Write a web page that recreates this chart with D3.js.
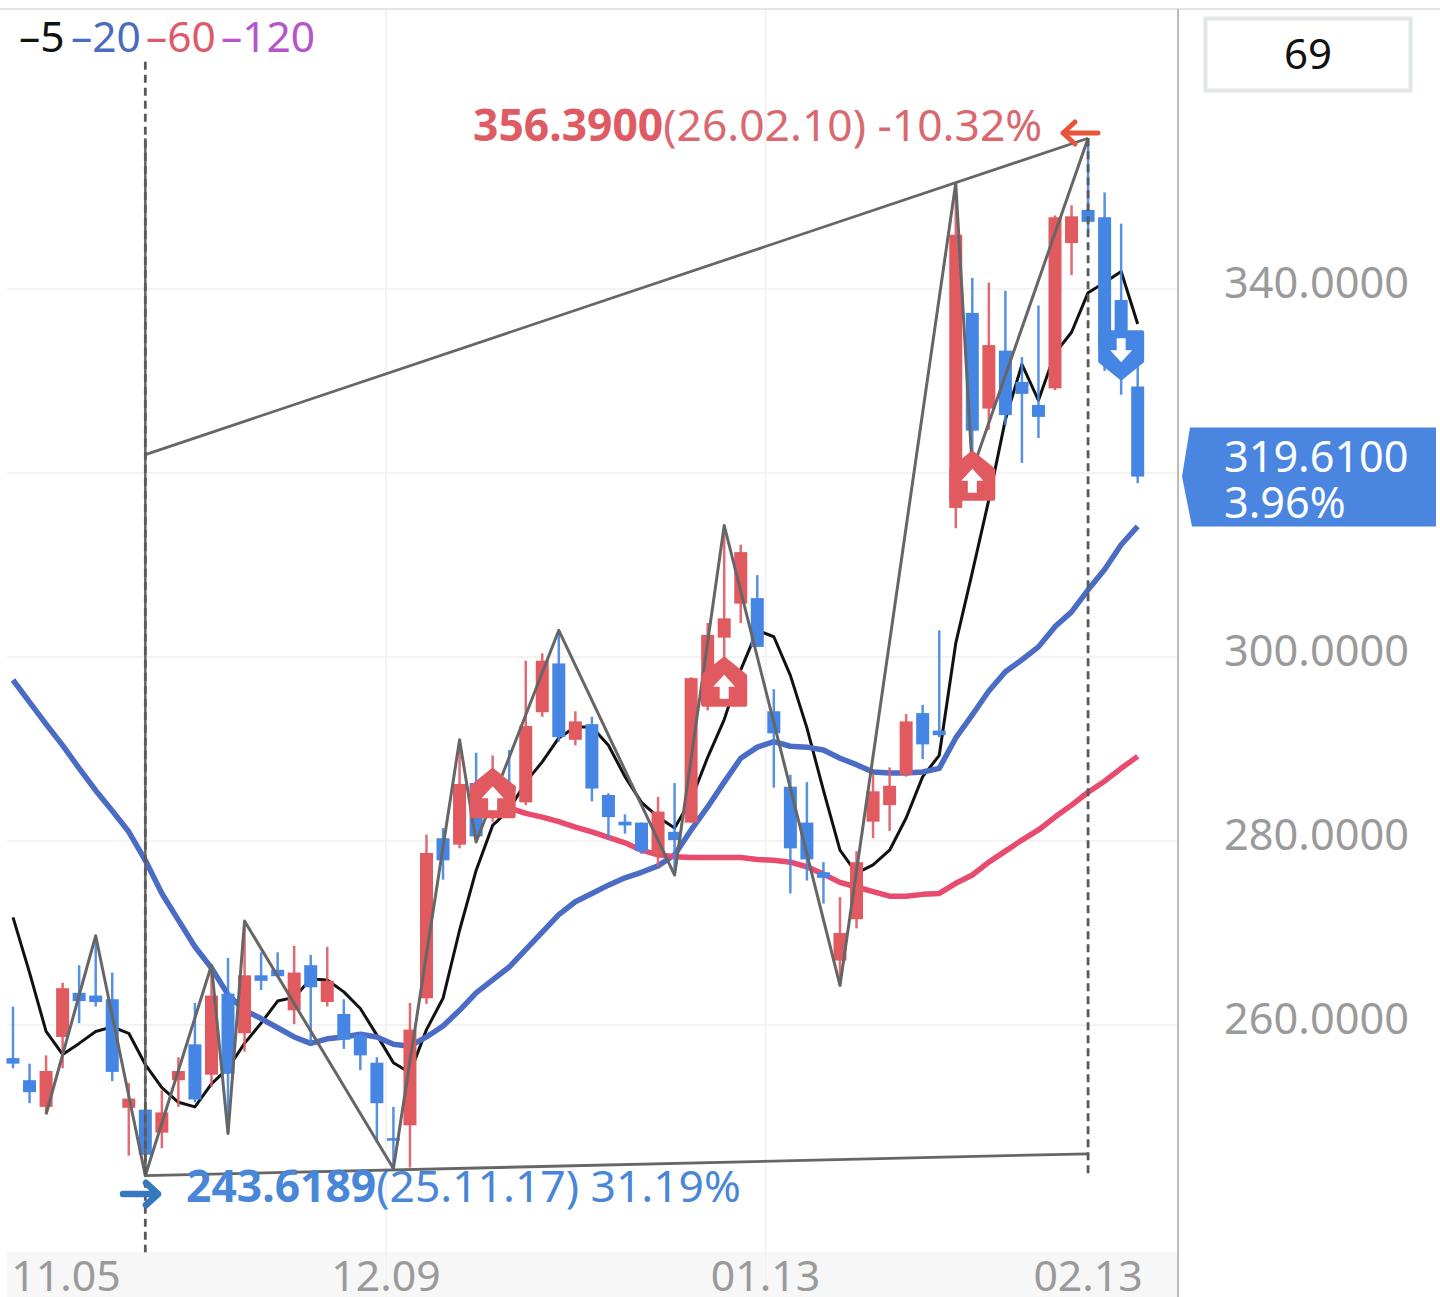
<!DOCTYPE html>
<html><head><meta charset="utf-8">
<script src="https://cdnjs.cloudflare.com/ajax/libs/d3/7.8.5/d3.min.js"></script>
<style>html,body{margin:0;padding:0;background:#fff;overflow:hidden}svg{display:block}text{font-family:"Noto Sans",sans-serif}</style>
</head><body><svg id="c" width="1440" height="1297"></svg>
<script>
const opens=[256.4,254.0,251.1,258.7,263.5,263.2,262.8,251.0,250.8,248.3,
254.0,257.9,254.6,263.4,259.1,265.4,266.0,261.6,266.5,262.5,
261.2,258.9,255.9,247.7,249.1,262.9,280.3,279.6,286.3,282.5,
286.0,284.2,294.0,299.3,291.0,292.7,285.0,282.1,282.0,278.5,
281.0,282.0,294.8,302.1,305.8,306.4,294.1,285.9,282.0,276.6,
267.0,271.5,282.1,283.9,287.2,293.9,292.0,316.2,337.4,327.0,
333.3,329.9,327.4,329.2,345.0,348.6,347.8,338.8,329.4];
const closes=[255.8,252.7,255.0,264.0,262.6,262.5,254.9,252.0,245.9,250.5,
255.0,251.9,263.2,254.7,265.4,264.8,265.3,265.7,264.1,264.8,
258.4,256.7,251.5,247.5,259.5,278.7,277.9,286.2,280.5,286.1,
285.5,292.5,299.6,291.3,293.0,285.7,282.6,281.7,278.9,283.2,
280.1,297.7,302.4,304.2,311.4,301.1,291.7,279.2,278.0,276.0,
270.0,277.7,285.4,286.0,293.0,290.5,291.5,345.9,324.6,333.9,
326.3,328.6,326.1,347.8,347.9,347.3,333.7,333.0,319.61];
const highs=[262.0,255.8,256.7,264.6,266.5,269.7,265.7,253.7,250.8,252.9,
256.5,262.4,266.5,267.3,271.3,267.9,267.9,268.6,267.6,268.5,
262.8,259.2,256.5,251.1,262.4,280.7,281.4,291.0,289.6,289.3,
289.9,299.6,300.4,302.9,294.1,293.5,285.2,282.9,282.0,284.8,
286.3,297.8,303.7,314.3,312.2,308.9,296.5,287.2,286.4,277.7,
273.9,278.9,287.2,288.0,293.8,294.8,302.9,351.5,341.2,340.7,
339.8,332.6,338.2,348.0,349.1,356.39,350.5,347.1,335.2];
const lows=[255.3,251.5,250.3,255.3,260.2,262.0,253.9,245.8,243.62,246.6,
251.1,251.6,253.3,248.2,257.1,263.8,265.3,260.1,258.0,262.0,
257.4,255.1,247.2,244.4,244.5,262.3,275.8,279.2,279.9,282.1,
283.6,283.9,293.5,290.8,290.4,284.3,280.3,280.8,278.6,277.3,
276.3,282.0,294.2,297.5,303.7,301.1,285.8,274.3,275.7,273.2,
264.3,270.5,280.3,281.1,287.0,288.9,291.3,314.0,320.3,324.7,
325.2,321.1,323.8,329.0,341.5,346.4,331.1,328.5,318.9];
const ma5=[271.7,265.7,259.3,256.8,258.0,259.3,259.8,259.1,255.7,253.2,
251.6,251.1,253.6,255.3,258.0,260.2,262.6,263.0,265.0,264.9,
263.6,261.8,258.9,255.9,254.8,259.5,262.9,270.3,276.8,281.7,
283.4,286.4,288.6,291.2,292.4,292.4,290.4,287.0,284.2,282.6,
281.4,284.5,289.1,293.2,298.6,302.9,302.2,298.0,292.3,285.5,
279.0,276.5,277.4,279.0,282.5,287.0,289.3,301.5,309.2,317.1,
325.8,331.8,327.9,333.0,335.3,339.6,340.7,341.9,336.2];
const ma20=[297.5,295.1,292.7,290.4,287.9,285.5,283.3,281.0,277.9,274.3,
271.4,268.5,266.2,263.3,261.6,260.7,259.7,258.7,258.0,258.5,
258.7,259.0,258.7,257.9,257.7,258.7,259.9,261.6,263.5,264.9,
266.3,268.2,270.1,272.0,273.4,274.3,275.2,276.0,276.6,277.3,
278.5,281.2,283.7,286.4,289.0,290.2,290.8,290.3,290.2,289.9,
289.0,288.3,287.5,287.4,287.4,287.5,287.9,291.2,293.7,296.3,
298.4,299.7,301.1,303.3,304.9,307.3,309.5,312.2,314.2];
const ma60Start=29;
const ma60=[283.9,283.6,283.0,282.6,282.1,281.5,281.0,280.4,279.8,279.0,
278.5,278.3,278.2,278.2,278.2,278.2,278.0,277.9,277.7,277.2,
276.4,275.5,275.0,274.5,274.0,274.0,274.2,274.3,275.4,276.3,
277.7,278.9,280.1,281.2,282.6,283.9,285.3,286.5,287.9,289.2];
const zigIdx=[2,5,8,12,13,14,23,27,28,33,40,43,50,57,58,65];
const zigKind=["l","h","l","h","l","h","l","h","l","h","l","h","l","h","l","h"];
const upperChannel=[[8,322.0],[65,356.39]];
const lowerChannel=[[8,243.62],[65,246.0]];
const rangeLeft=[364.7,235.3];
const rangeRight=[356.39,243.4];
const upIdx=[29,43,58], upTip=[287.7,299.8,322.2];
const downIdx=[67], downTip=[330.3];
const yTicks=[260,280,300,320,340];
const yLabels=[260,280,300,340];
const xTickLabels=["11.05","12.09","01.13","02.13"];
const xTickPos=[3.2,22.55,45.5,65];
const xGridPos=[22.55,45.5];
const legendText=["–5","–20","–60","–120"];
const legendColors=["#111111","#4a6cc0","#dc5a6a","#b455cc"];
const legendX=[19,71,146,221];

const RED="#e05a60",BLUE="#4585e3",GREY="#666666";
const svg=d3.select("#c");
const x=d3.scaleLinear().domain([0,68]).range([13,1137.7]);
const y=d3.scaleLinear().domain([260,340]).range([1025,289]);

// frame + grid
svg.append("rect").attr("x",7).attr("y",1252).attr("width",1171).attr("height",45).attr("fill","#f7f7f7");
svg.append("line").attr("x1",0).attr("x2",1440).attr("y1",9).attr("y2",9).attr("stroke","#e4e4e4").attr("stroke-width",2);
svg.append("g").selectAll("line").data(yTicks).join("line")
  .attr("x1",7).attr("x2",1178).attr("y1",d=>y(d)).attr("y2",d=>y(d)).attr("stroke","#f3f3f3").attr("stroke-width",2);
svg.append("g").selectAll("line").data(xGridPos).join("line")
  .attr("x1",d=>x(d)).attr("x2",d=>x(d)).attr("y1",10).attr("y2",1297).attr("stroke","#f3f3f3").attr("stroke-width",2);
svg.append("line").attr("x1",1178).attr("x2",1178).attr("y1",9).attr("y2",1297).attr("stroke","#bcbcbc").attr("stroke-width",2);

// axes labels
const ax=svg.append("g").attr("transform","translate(1224,-8)")
  .call(d3.axisRight(y).tickValues(yLabels).tickFormat(d3.format(".4f")).tickSize(0).tickPadding(0));
ax.select(".domain").remove();
ax.selectAll("text").attr("font-size",43.3).attr("fill","#9a9a9a").attr("dy",null).attr("dominant-baseline","central").style("font-family",'"Noto Sans",sans-serif');
svg.append("g").selectAll("text").data(xTickLabels).join("text")
  .attr("x",(d,i)=>x(xTickPos[i])).attr("y",1291).attr("text-anchor","middle")
  .attr("font-size",42.8).attr("fill","#9a9a9a").text(d=>d);

// moving averages (under candles)
const line=d3.line().x(d=>x(d[0])).y(d=>y(d[1]));
const pts=(a,s=0)=>a.map((v,i)=>[i+s,v]);
const ln=(a,c,w)=>svg.append("path").attr("d",line(a)).attr("fill","none").attr("stroke",c).attr("stroke-width",w).attr("stroke-linejoin","round");
ln(pts(ma5),"#111111",3);
ln(pts(ma20),"#4a6cc4",5.5);
ln(pts(ma60,ma60Start),"#e94b6e",5.5);

// candles
const idx=d3.range(opens.length);
const col=i=>closes[i]>=opens[i]?RED:BLUE;
svg.append("g").selectAll("line").data(idx).join("line")
  .attr("x1",i=>x(i)).attr("x2",i=>x(i)).attr("y1",i=>y(highs[i])).attr("y2",i=>y(lows[i]))
  .attr("stroke",col).attr("stroke-width",2.5).attr("stroke-opacity",.9);
svg.append("g").selectAll("rect").data(idx).join("rect")
  .attr("x",i=>x(i)-6.5).attr("width",13)
  .attr("y",i=>y(Math.max(opens[i],closes[i])))
  .attr("height",i=>Math.max(2.5,Math.abs(y(opens[i])-y(closes[i]))))
  .attr("fill",col);

// zigzag & channel
const zig=zigIdx.map((k,i)=>[k,zigKind[i]==="h"?highs[k]:lows[k]]);
ln(zig,GREY,3);
ln(upperChannel,GREY,2.8);
ln(lowerChannel,GREY,2.8);
// range markers
const dash=(i,r)=>svg.append("line").attr("x1",x(i)).attr("x2",x(i)).attr("y1",y(r[0])).attr("y2",y(r[1])).attr("stroke","#5a5a5a").attr("stroke-width",2.8).attr("stroke-dasharray","8,5");
svg.append("line").attr("x1",x(8)).attr("x2",x(8)).attr("y1",y(highs[65])).attr("y2",y(lows[8])).attr("stroke",GREY).attr("stroke-width",2.5);
dash(8,rangeLeft);
dash(65,rangeRight);

// signal markers
function marker(cx,tip,up,fill){
  const s=up?1:-1,hw=21,h=46,sh=17;
  const p=d3.path();
  p.moveTo(cx,tip);p.lineTo(cx+hw,tip+s*sh);p.lineTo(cx+hw,tip+s*h);p.lineTo(cx-hw,tip+s*h);p.lineTo(cx-hw,tip+s*sh);p.closePath();
  svg.append("path").attr("d",p.toString()).attr("fill",fill).attr("stroke",fill).attr("stroke-width",4).attr("stroke-linejoin","round");
  const a=d3.path(),t=tip+s*16,w=11,hh=12,sw=4.5,b=tip+s*40;
  a.moveTo(cx,t);a.lineTo(cx+w,t+s*hh);a.lineTo(cx+sw,t+s*hh);a.lineTo(cx+sw,b);a.lineTo(cx-sw,b);a.lineTo(cx-sw,t+s*hh);a.lineTo(cx-w,t+s*hh);a.closePath();
  svg.append("path").attr("d",a.toString()).attr("fill","#fff");
}
upIdx.forEach((k,i)=>marker(x(k),y(upTip[i]),true,"#e05a60"));
downIdx.forEach((k,i)=>marker(x(k),y(downTip[i]),false,"#4585e3"));

// high / low annotations
function note(px,base,bold,rest,c1,c2){
  const t=svg.append("text").attr("x",px).attr("y",base).attr("font-size",44.4);
  t.append("tspan").attr("font-weight",700).attr("fill",c1).text(bold);
  t.append("tspan").attr("fill",c2).text(rest);
}
note(473,y(highs[65])+3,"356.3900","(26.02.10) -10.32%","#df5b63","#d9696f");
note(186,y(lows[8])+26,"243.6189","(25.11.17) 31.19%","#4a86d8","#4a86d8");
function arrow(x1,x2,yy,c,w){
  const d=x2>x1?1:-1,h=d3.path();
  h.moveTo(x1,yy);h.lineTo(x2,yy);h.moveTo(x2-d*12,yy-11);h.lineTo(x2,yy);h.lineTo(x2-d*12,yy+11);
  svg.append("path").attr("d",h.toString()).attr("fill","none").attr("stroke",c).attr("stroke-width",w).attr("stroke-linecap","round").attr("stroke-linejoin","round");
}
arrow(1098,1063,133,"#e8563a",5);
arrow(123,158,1194,"#3578be",6.5);

// legend
svg.append("g").selectAll("text").data(legendText).join("text")
  .attr("x",(d,i)=>legendX[i]).attr("y",52).attr("font-size",42.5).attr("fill",(d,i)=>legendColors[i]).text(d=>d);

// value box
svg.append("rect").attr("x",1205.5).attr("y",18.5).attr("width",205).attr("height",72).attr("fill","#fff").attr("stroke","#e3e6e8").attr("stroke-width",4);
svg.append("text").attr("x",1308).attr("y",69).attr("text-anchor","middle").attr("font-size",42).attr("fill","#111").text(String(opens.length));

// current price tag
const last=closes[closes.length-1],ty=y(last);
const tag=d3.path();
tag.moveTo(1190,ty-49);tag.lineTo(1436,ty-49);tag.lineTo(1436,ty+50);tag.lineTo(1192,ty+50);tag.lineTo(1182,ty);tag.closePath();
svg.append("path").attr("d",tag.toString()).attr("fill","#4a86e0");
svg.append("text").attr("x",1224).attr("y",472).attr("font-size",43.2).attr("fill","#fff").text(d3.format(".4f")(last));
svg.append("text").attr("x",1224).attr("y",518).attr("font-size",43.2).attr("fill","#fff").text("3.96%");
</script></body></html>
